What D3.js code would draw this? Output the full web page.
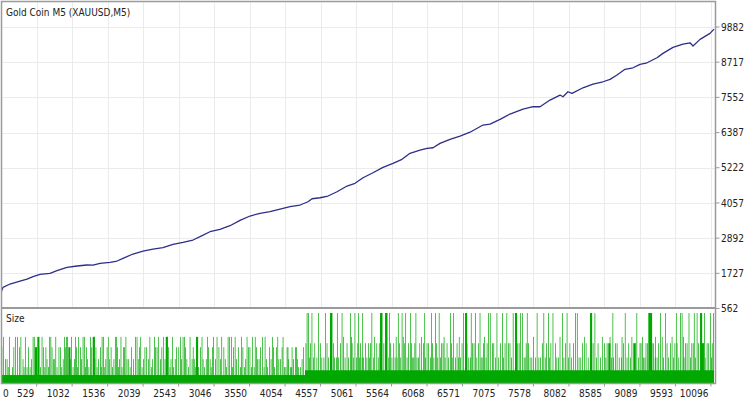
<!DOCTYPE html>
<html>
<head>
<meta charset="utf-8">
<script src="https://cdn.jsdelivr.net/npm/d3@7"></script>
<style>
  html, body { margin: 0; padding: 0; background: #fff; }
  svg { display: block; }
  text { font-family: "DejaVu Sans Condensed", "DejaVu Sans", sans-serif; font-stretch: condensed; font-size: 10px; fill: #222; }
</style>
</head>
<body>
<svg id="chart"></svg>
<script>
const width = 746;
const height = 400;

// balance curve (trade number -> balance)
const balanceTrade = [0, 51, 150, 292, 392, 477, 576, 718, 817, 959, 1101, 1243, 1328, 1428, 1569, 1669, 1754, 1896, 2038, 2180, 2321, 2463, 2605, 2747, 2847, 2988, 3130, 3272, 3414, 3556, 3698, 3840, 3982, 4124, 4266, 4379, 4436, 4549, 4663, 4791, 4933, 5046, 5160, 5301, 5443, 5585, 5713, 5826, 5968, 6068, 6153, 6252, 6394, 6536, 6678, 6862, 6962, 7104, 7245, 7430, 7572, 7671, 7813, 7955, 7997, 8068, 8125, 8281, 8423, 8565, 8665, 8764, 8877, 8991, 9090, 9190, 9331, 9416, 9558, 9700, 9800, 9842, 9942, 10083, 10140];
const balanceValue = [950, 1264, 1373, 1472, 1538, 1615, 1694, 1727, 1813, 1926, 1969, 2002, 1995, 2058, 2091, 2134, 2224, 2366, 2465, 2531, 2574, 2687, 2753, 2829, 2939, 3104, 3184, 3303, 3480, 3624, 3713, 3766, 3855, 3932, 3988, 4097, 4196, 4229, 4286, 4428, 4617, 4706, 4891, 5057, 5236, 5368, 5501, 5699, 5808, 5865, 5884, 6030, 6163, 6272, 6398, 6636, 6669, 6825, 7000, 7165, 7242, 7242, 7463, 7629, 7573, 7738, 7685, 7870, 7993, 8069, 8149, 8291, 8480, 8532, 8645, 8698, 8863, 9009, 9208, 9317, 9360, 9251, 9473, 9671, 9813];

const yTicks = [562, 1727, 2892, 4057, 5222, 6387, 7552, 8717, 9882];
const xTicks = [0, 529, 1032, 1536, 2039, 2543, 3046, 3550, 4054, 4557, 5061, 5564, 6068, 6571, 7075, 7578, 8082, 8585, 9089, 9593, 10096];

// lot size: base size per stretch of trades [from, to, size]
const baseSize = [[0, 4336, 0.1], [4336, 10140, 0.16]];
// bigger lots [trade, size, number of trades]
const leftSpikes = [
  [55, .58, 10], [104, .3, 10], [140, .58, 10], [221, .58, 10], [254, .58, 10], [278, .45, 10],
  [363, .58, 10], [387, .2, 10], [473, .58, 10], [505, .45, 30], [538, .58, 30], [576, .2, 10],
  [671, .3, 10], [708, .58, 10], [742, .45, 10], [813, .2, 10], [917, .58, 10], [945, .58, 10],
  [978, .45, 30], [1002, .3, 10], [1120, .58, 10], [1144, .45, 10], [1182, .58, 10], [1247, .3, 10],
  [1286, .58, 10], [1324, .58, 30], [1381, .2, 10], [1428, .45, 10], [1452, .58, 10], [1523, .45, 10],
  [1640, .58, 10], [1673, .45, 10], [1735, .2, 10], [1806, .3, 10], [1948, .58, 10], [1985, .45, 10],
  [2019, .2, 10], [2113, .3, 10], [2194, .58, 10], [2232, .45, 10], [2326, .58, 10], [2360, .58, 30],
  [2397, .45, 10], [2468, .2, 10], [2563, .58, 10], [2601, .58, 10], [2634, .45, 10], [2729, .3, 10],
  [2790, .58, 30], [2847, .45, 10], [2903, .2, 10], [2964, .45, 10], [3035, .58, 10], [3083, .58, 10],
  [3130, .3, 10], [3262, .58, 10], [3286, .58, 10], [3319, .45, 10], [3414, .2, 10], [3509, .58, 10],
  [3532, .45, 10], [3584, .58, 10], [3641, .45, 10], [3726, .58, 10], [3783, .3, 10], [3868, .58, 10],
  [3925, .45, 10], [4006, .45, 10], [4077, .45, 10], [4100, .3, 10], [4148, .45, 10], [4195, .45, 10],
  [4241, .2, 10], [4312, .45, 10],
  [80, .3, 10], [180, .2, 10], [330, .3, 10], [430, .2, 10], [620, .45, 10], [640, .2, 10],
  [780, .3, 10], [860, .45, 10], [880, .2, 10], [1060, .3, 10], [1090, .45, 10], [1215, .2, 10],
  [1350, .3, 10], [1490, .2, 10], [1560, .3, 10], [1600, .2, 10], [1700, .3, 10], [1770, .45, 10],
  [1850, .2, 10], [1900, .3, 10], [2060, .45, 10], [2150, .2, 10], [2280, .3, 10], [2430, .3, 10],
  [2510, .45, 10], [2680, .2, 10], [2760, .3, 10], [2820, .2, 10], [2930, .3, 10], [3000, .2, 10],
  [3180, .45, 10], [3220, .2, 10], [3360, .3, 10], [3450, .45, 10], [3475, .2, 10], [3610, .2, 10],
  [3680, .3, 10], [3750, .2, 10], [3830, .45, 10], [3900, .2, 10], [3960, .3, 10], [4040, .2, 10],
  [4125, .2, 10], [4170, .3, 10], [4270, .2, 10],
  [30, .45, 10], [120, .2, 10], [200, .45, 10], [300, .58, 10], [345, .2, 10], [410, .45, 10],
  [450, .3, 10], [490, .58, 10], [520, .3, 10], [555, .45, 10], [600, .58, 10], [655, .45, 10],
  [690, .2, 10], [725, .58, 10], [760, .3, 10], [795, .58, 10], [840, .45, 10], [900, .3, 10],
  [930, .45, 10], [960, .58, 10], [1020, .58, 10], [1040, .2, 10], [1075, .58, 10], [1105, .2, 10],
  [1160, .3, 10], [1200, .58, 10], [1230, .45, 10], [1265, .2, 10], [1305, .45, 10], [1340, .58, 10],
  [1365, .45, 10], [1400, .3, 10], [1440, .2, 10], [1470, .58, 10], [1505, .3, 10], [1540, .58, 10],
  [1580, .45, 10], [1620, .3, 10], [1655, .58, 10], [1685, .2, 10], [1720, .58, 10], [1755, .45, 10],
  [1790, .58, 10], [1830, .3, 10], [1870, .45, 10], [1925, .58, 10], [1965, .3, 10], [2000, .58, 10],
  [2040, .3, 10], [2085, .45, 10], [2130, .58, 10], [2170, .3, 10], [2210, .45, 10], [2250, .58, 10],
  [2300, .45, 10], [2345, .3, 10], [2380, .58, 10], [2415, .2, 10], [2450, .58, 10], [2490, .3, 10],
  [2540, .45, 10], [2580, .3, 10], [2620, .58, 10], [2655, .3, 10], [2700, .58, 10], [2745, .45, 10],
  [2775, .2, 10], [2805, .45, 10], [2870, .58, 10], [2885, .3, 10], [2950, .58, 10], [2985, .3, 10],
  [3020, .45, 10], [3060, .3, 10], [3110, .45, 10], [3150, .58, 10], [3200, .3, 10], [3240, .58, 10],
  [3300, .2, 10], [3340, .58, 10], [3385, .45, 10], [3430, .58, 10], [3490, .3, 10], [3550, .45, 10],
  [3570, .2, 10], [3625, .58, 10], [3660, .3, 10], [3700, .45, 10], [3765, .58, 10], [3800, .2, 10],
  [3850, .3, 10], [3885, .45, 10], [3945, .58, 10], [3985, .3, 10], [4020, .58, 10], [4060, .2, 10],
  [4090, .45, 10], [4140, .2, 10], [4210, .45, 10], [4225, .3, 10], [4290, .3, 10]
];
const rightSpikes = [
  [4361, .88, 10], [4383, .88, 10], [4454, .32, 10], [4549, .5, 10], [4644, .5, 10], [4691, .88, 30],
  [4715, .88, 10], [4738, .5, 10], [4809, .32, 10], [4857, .88, 10], [4928, .5, 10], [4975, .88, 10],
  [5022, .32, 10], [5093, .88, 10], [5117, .5, 10], [5164, .32, 10], [5259, .5, 10], [5306, .32, 10],
  [5401, .88, 30], [5425, .88, 10], [5472, .88, 30], [5496, .88, 10], [5543, .5, 10], [5590, .5, 10],
  [5638, .32, 10], [5709, .88, 10], [5780, .32, 10], [5826, .88, 10], [5921, .32, 10], [6015, .5, 10],
  [6063, .5, 10], [6110, .32, 10], [6181, .88, 10], [6252, .32, 10], [6347, .5, 10], [6394, .88, 10],
  [6441, .88, 10], [6489, .5, 10], [6536, .32, 10], [6560, .5, 10], [6607, .88, 30], [6678, .32, 10],
  [6749, .88, 10], [6796, .5, 10], [6862, .5, 10], [6933, .88, 10], [7033, .32, 10], [7132, .88, 10],
  [7217, .5, 10], [7316, .88, 30], [7388, .88, 10], [7501, .5, 10], [7600, .32, 10], [7699, .5, 10],
  [7785, .88, 10], [7884, .5, 10], [7983, .88, 10], [8068, .32, 10], [8168, .88, 10], [8267, .5, 10],
  [8381, .88, 30], [8466, .32, 10], [8523, .32, 10], [8618, .5, 10], [8640, .5, 30], [8711, .32, 10],
  [8760, .5, 10], [8853, .5, 10], [8901, .32, 10], [8995, .5, 30], [9019, .5, 10], [9066, .32, 10],
  [9137, .32, 10], [9208, .88, 30], [9232, .88, 30], [9256, .5, 10], [9279, .5, 10], [9327, .32, 10],
  [9374, .88, 10], [9469, .5, 10], [9516, .5, 10], [9611, .5, 10], [9658, .88, 10], [9682, .88, 10],
  [9753, .5, 10], [9800, .32, 10], [9871, .32, 10], [9895, .88, 10], [9942, .88, 30], [9966, .5, 30],
  [9989, .5, 10], [10037, .5, 10], [10083, .88, 10], [10130, .88, 10],
  [4410, .5, 10], [4500, .32, 10], [4600, .32, 10], [4780, .32, 10], [4900, .32, 10], [5000, .5, 10],
  [5060, .32, 10], [5140, .32, 10], [5210, .32, 10], [5230, .5, 10], [5350, .5, 10], [5370, .32, 10],
  [5520, .32, 10], [5610, .32, 10], [5670, .5, 10], [5740, .5, 10], [5800, .5, 10], [5860, .32, 10],
  [5890, .5, 10], [5960, .5, 10], [6040, .32, 10], [6140, .5, 10], [6215, .32, 10], [6290, .5, 10],
  [6320, .32, 10], [6420, .32, 10], [6510, .32, 10], [6630, .5, 10], [6710, .5, 10], [6830, .32, 10],
  [6900, .32, 10], [6990, .5, 10], [7080, .32, 10], [7170, .5, 10], [7260, .32, 10], [7350, .5, 10],
  [7440, .32, 10], [7470, .5, 10], [7550, .32, 10], [7650, .32, 10], [7740, .32, 10], [7820, .5, 10],
  [7930, .32, 10], [8030, .5, 10], [8110, .32, 10], [8220, .32, 10], [8320, .5, 10], [8420, .5, 10],
  [8580, .5, 10], [8680, .32, 10], [8820, .32, 10], [8950, .32, 10], [9100, .5, 10], [9170, .5, 10],
  [9300, .32, 10], [9420, .32, 10], [9560, .32, 10], [9580, .5, 10], [9710, .32, 10], [9840, .5, 10],
  [10010, .32, 10], [10110, .5, 10],
  [4345, .5, 10], [4395, .32, 10], [4430, .88, 10], [4470, .5, 10], [4525, .88, 10], [4570, .32, 10],
  [4620, .88, 10], [4665, .32, 10], [4705, .5, 10], [4750, .32, 10], [4790, .88, 10], [4835, .5, 10],
  [4880, .58, 10], [4950, .32, 10], [4990, .58, 10], [5040, .88, 10], [5080, .5, 10], [5105, .32, 10],
  [5150, .88, 10], [5190, .5, 10], [5245, .32, 10], [5280, .88, 10], [5320, .58, 10], [5385, .5, 10],
  [5410, .32, 10], [5450, .5, 10], [5485, .32, 10], [5530, .88, 10], [5565, .32, 10], [5625, .58, 10],
  [5655, .88, 10], [5690, .32, 10], [5725, .58, 10], [5760, .88, 10], [5845, .5, 10], [5875, .32, 10],
  [5905, .88, 10], [5940, .32, 10], [5985, .58, 10], [6030, .88, 10], [6085, .5, 10], [6125, .88, 10],
  [6160, .32, 10], [6200, .5, 10], [6235, .88, 10], [6270, .5, 10], [6305, .58, 10], [6370, .32, 10],
  [6410, .5, 10], [6465, .32, 10], [6520, .58, 10], [6580, .88, 10], [6620, .5, 10], [6655, .32, 10],
  [6690, .88, 10], [6730, .5, 10], [6770, .32, 10], [6815, .88, 10], [6845, .32, 10], [6880, .58, 10],
  [6915, .5, 10], [6960, .88, 10], [7010, .5, 10], [7055, .88, 10], [7105, .5, 10], [7150, .32, 10],
  [7195, .88, 10], [7240, .5, 10], [7285, .88, 10], [7330, .32, 10], [7370, .5, 10], [7420, .88, 10],
  [7455, .32, 10], [7485, .88, 10], [7525, .32, 10], [7575, .58, 10], [7625, .88, 10], [7675, .32, 10],
  [7720, .88, 10], [7760, .5, 10], [7800, .32, 10], [7850, .88, 10], [7905, .32, 10], [7950, .58, 10],
  [8005, .32, 10], [8050, .88, 10], [8090, .5, 10], [8140, .5, 10], [8195, .88, 10], [8245, .32, 10],
  [8295, .58, 10], [8350, .32, 10], [8400, .5, 10], [8445, .88, 10], [8490, .5, 10], [8550, .58, 10],
  [8600, .32, 10], [8660, .58, 10], [8700, .88, 10], [8735, .5, 10], [8790, .32, 10], [8830, .58, 10],
  [8875, .88, 10], [8925, .5, 10], [8970, .58, 10], [9040, .88, 10], [9085, .5, 10], [9120, .58, 10],
  [9155, .32, 10], [9190, .5, 10], [9250, .32, 10], [9305, .58, 10], [9350, .5, 10], [9400, .58, 10],
  [9445, .88, 10], [9490, .32, 10], [9540, .58, 10], [9600, .88, 10], [9635, .32, 10], [9700, .58, 10],
  [9730, .5, 10], [9780, .88, 10], [9820, .5, 10], [9855, .88, 10], [9915, .5, 10], [9960, .32, 10],
  [10000, .88, 10], [10060, .5, 10], [10100, .32, 10]
];

const frame = { left: 1.5, right: 715.5, top: 1.5, split: 308, bottom: 383.5 };

const svg = d3.select("#chart")
  .attr("width", width)
  .attr("height", height);

const x = d3.scaleLinear().domain([0, 10140]).range([-0.6, 714]);
const y = d3.scaleLinear().domain([562, 9882]).range([308.5, 27]);
const ySize = d3.scaleLinear().domain([0, 0.93]).range([383, 309]);

const defs = svg.append("defs");
defs.append("clipPath").attr("id", "clipTop")
  .append("rect")
  .attr("x", frame.left).attr("y", frame.top)
  .attr("width", frame.right - frame.left).attr("height", frame.split - frame.top);
defs.append("clipPath").attr("id", "clipBottom")
  .append("rect")
  .attr("x", frame.left).attr("y", frame.split)
  .attr("width", frame.right - frame.left).attr("height", frame.bottom - frame.split);

// grid
const grid = svg.append("g").attr("stroke", "#ebebeb").attr("stroke-width", 1);
grid.selectAll(".hgrid")
  .data(yTicks.slice(1))
  .join("line")
  .attr("x1", frame.left).attr("x2", frame.right)
  .attr("y1", d => Math.round(y(d)) + 0.5).attr("y2", d => Math.round(y(d)) + 0.5);
grid.selectAll(".vgrid")
  .data(xTicks.slice(1))
  .join("line")
  .attr("y1", frame.top).attr("y2", frame.split)
  .attr("x1", d => Math.round(x(d)) + 0.5).attr("x2", d => Math.round(x(d)) + 0.5);

// balance line
const balance = balanceTrade.map((t, i) => ({ t: t, v: balanceValue[i] }));
svg.append("path")
  .datum(balance)
  .attr("clip-path", "url(#clipTop)")
  .attr("fill", "none")
  .attr("stroke", "#2e2e8a")
  .attr("stroke-width", 1.3)
  .attr("stroke-linejoin", "round")
  .attr("d", d3.line().x(d => x(d.t)).y(d => y(d.v)));

// size panel
const sizeG = svg.append("g").attr("clip-path", "url(#clipBottom)").attr("fill", "#00a800");
sizeG.selectAll(".base")
  .data(baseSize)
  .join("rect")
  .attr("x", d => x(d[0]))
  .attr("width", d => x(d[1]) - x(d[0]))
  .attr("y", d => ySize(d[2]))
  .attr("height", d => ySize(0) - ySize(d[2]));
sizeG.selectAll(".spike")
  .data(leftSpikes.concat(rightSpikes))
  .join("rect")
  .attr("x", d => x(d[0]))
  .attr("width", d => x(d[0] + d[2]) - x(d[0]))
  .attr("y", d => ySize(d[1]))
  .attr("height", d => ySize(0) - ySize(d[1]));

// frame
svg.append("rect")
  .attr("x", frame.left).attr("y", frame.top)
  .attr("width", frame.right - frame.left).attr("height", frame.bottom - frame.top)
  .attr("fill", "none").attr("stroke", "#9a9a9a").attr("stroke-width", 1.5);
svg.append("line")
  .attr("x1", frame.left).attr("x2", frame.right)
  .attr("y1", frame.split).attr("y2", frame.split)
  .attr("stroke", "#9a9a9a").attr("stroke-width", 2);

// right axis
const yAxis = svg.append("g");
yAxis.selectAll("line")
  .data(yTicks)
  .join("line")
  .attr("x1", frame.right).attr("x2", frame.right + 4)
  .attr("y1", d => y(d)).attr("y2", d => y(d))
  .attr("stroke", "#9a9a9a");
yAxis.selectAll("text")
  .data(yTicks)
  .join("text")
  .attr("x", 721)
  .attr("y", d => y(d))
  .attr("dy", "0.36em")
  .text(d => d);

// bottom axis
const xAxis = svg.append("g");
xAxis.selectAll("line")
  .data(xTicks.slice(1))
  .join("line")
  .attr("x1", d => x(d)).attr("x2", d => x(d))
  .attr("y1", frame.bottom).attr("y2", frame.bottom + 3)
  .attr("stroke", "#9a9a9a");
xAxis.selectAll("text")
  .data(xTicks)
  .join("text")
  .attr("x", d => d === 0 ? 3 : x(d) - 2.5)
  .attr("y", 396.5)
  .attr("text-anchor", d => d === 0 ? "start" : "end")
  .text(d => d);

// panel titles
svg.append("text").attr("x", 6).attr("y", 15.5).text("Gold Coin M5 (XAUUSD,M5)");
svg.append("text").attr("x", 6).attr("y", 322).text("Size");
</script>
</body>
</html>
